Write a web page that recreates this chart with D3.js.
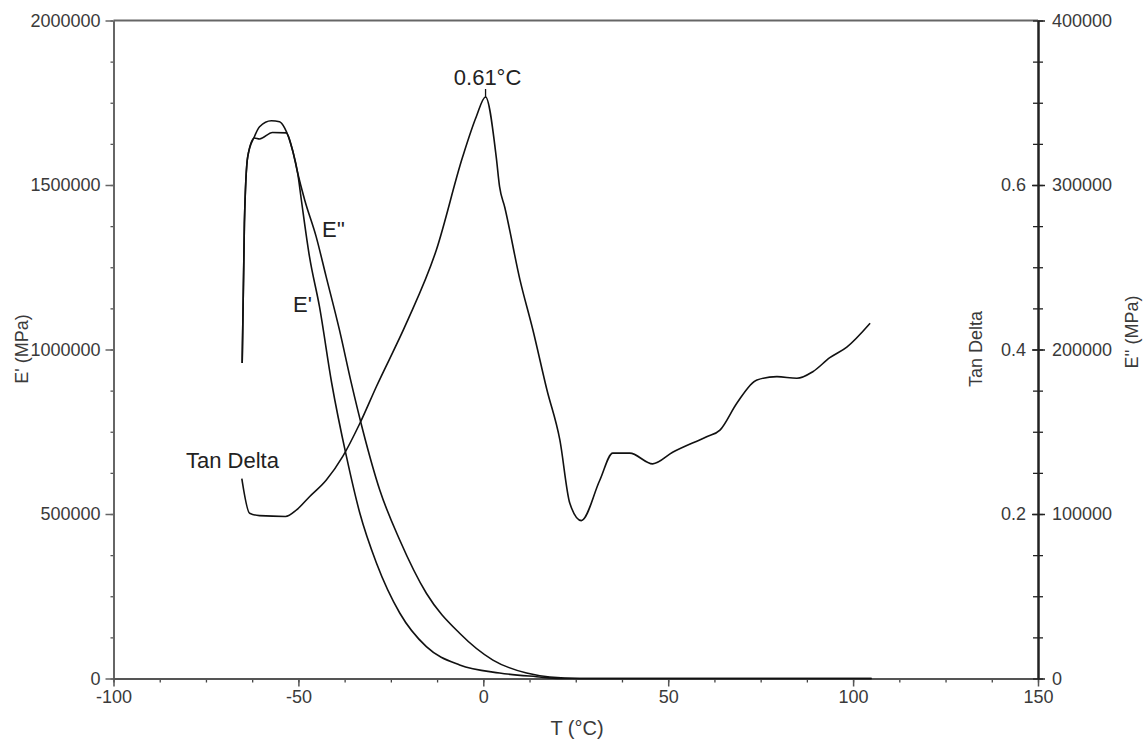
<!DOCTYPE html>
<html lang="en">
<head>
  <meta charset="UTF-8">
  <title>DMA - E', E'' and Tan Delta</title>
  <style>
    body { margin: 0; background: #fff; }
    svg text { font-family: Arial, "Liberation Sans", sans-serif; }
  </style>
</head>
<body>
  <script src="https://d3js.org/d3.v7.min.js"></script>
  <script>
    // values
    const eTemp = [-65.2, -64.6, -63.7, -61.9, -60.5, -57.3, -55.1, -53.7, -51.6, -50.2, -49.2,
                   -47.0, -44.3, -41.0, -37.0, -33.4, -28.9, -22.6, -15.4, -6.4, 4.4,
                   14.4, 20.7, 40, 60, 80, 105];
    const ePrime = [959000, 1384500, 1586000, 1646800, 1677200, 1695400, 1692400, 1673200, 1606400,
                    1536500, 1454400, 1282000, 1130100, 898200, 674200, 503000, 351100,
                    199100, 96700, 41000, 16700, 5500, 0, 0, 0, 0, 0];

    const e2Temp = [-65.2, -64.6, -63.7, -61.9, -60.5, -57.0, -53.3, -51.6, -50.2, -48.3, -45.2,
                    -42.5, -38.9, -35.7, -32.6, -28.0, -22.6, -15.4, -6.4, 2.6, 11.7, 18.0,
                    26, 50, 80, 105];
    const eDouble = [191800, 276900, 317300, 328600, 328000, 331900, 331700, 321300, 307300, 290900,
                     268600, 244300, 211900, 179700, 151100, 114600, 84200, 51800, 27500, 11200,
                     3300, 900, 0, 0, 0, 0];

    const tanTemp = [-65.3, -63.2, -60.5, -53.5, -50.5, -47.0, -42.5, -38.0, -33.4, -28.9, -20.8,
                     -12.7, -5.6, -1.9, 0.61, 3.5, 4.4, 5.8, 9.9, 13.4, 17.2, 20.7, 23.4, 26.5,
                     31.5, 35.0, 39.6, 45.8, 51.2, 60.4, 64.0, 68.6, 74.0, 79.4, 84.8, 89.1,
                     93.7, 98.3, 104.6];
    const tanDelta = [0.243, 0.201, 0.198, 0.197, 0.205, 0.221, 0.241, 0.270, 0.310, 0.355, 0.432,
                      0.521, 0.634, 0.683, 0.707, 0.634, 0.598, 0.573, 0.485, 0.424, 0.351, 0.290,
                      0.213, 0.192, 0.241, 0.274, 0.274, 0.261, 0.275, 0.294, 0.302, 0.335, 0.363,
                      0.367, 0.365, 0.373, 0.390, 0.403, 0.432];

    const tempTicks = [-100, -50, 0, 50, 100, 150];
    const ePrimeTicks = [0, 500000, 1000000, 1500000, 2000000];
    const eDoubleTicks = [0, 100000, 200000, 300000, 400000];
    const tanTicks = [0.2, 0.4, 0.6];

    const width = 1147, height = 744;
    const plotLeft = 113.5, plotRight = 1038, plotTop = 20.5, plotBottom = 678.5;

    const svg = d3.select('body').append('svg')
      .attr('width', width)
      .attr('height', height);

    const x = d3.scaleLinear().domain([-100, 150]).range([plotLeft, plotRight]);
    const yE = d3.scaleLinear().domain([0, 2000000]).range([plotBottom, plotTop]);
    const yE2 = d3.scaleLinear().domain([0, 400000]).range([plotBottom, plotTop]);
    const yTan = d3.scaleLinear().domain([0, 0.8]).range([plotBottom, plotTop]);

    const plain = d => String(d);

    function styleAxis(g, color) {
      g.attr('font-size', 18).attr('font-family', 'Arial, "Liberation Sans", sans-serif');
      g.selectAll('text').attr('fill', '#3a3a3a');
      g.selectAll('line').attr('stroke', color).attr('stroke-width', 1.5);
      g.select('.domain').attr('stroke', color).attr('stroke-width', 2);
    }
    function minor(g, color) {
      g.select('.domain').remove();
      g.selectAll('text').remove();
      g.selectAll('line').attr('stroke', color).attr('stroke-width', 1.3);
    }

    // top border
    svg.append('line')
      .attr('x1', plotLeft).attr('x2', plotRight)
      .attr('y1', plotTop).attr('y2', plotTop)
      .attr('stroke', '#666').attr('stroke-width', 2);

    // left axis E'
    svg.append('g').attr('transform', `translate(${plotLeft},0)`)
      .call(d3.axisLeft(yE).tickValues(d3.range(0, 2000001, 125000)).tickSize(3).tickFormat(''))
      .call(g => minor(g, '#555'));
    svg.append('g').attr('transform', `translate(${plotLeft},0)`)
      .call(d3.axisLeft(yE).tickValues(ePrimeTicks).tickSize(8).tickPadding(5)
        .tickFormat(d3.format('d')).tickSizeOuter(0))
      .call(g => styleAxis(g, '#666'));

    // bottom axis T
    svg.append('g').attr('transform', `translate(0,${plotBottom})`)
      .call(d3.axisBottom(x).tickValues(d3.range(-100, 151, 12.5)).tickSize(4).tickFormat(''))
      .call(g => minor(g, '#444'));
    svg.append('g').attr('transform', `translate(0,${plotBottom})`)
      .call(d3.axisBottom(x).tickValues(tempTicks).tickSize(8).tickPadding(4)
        .tickFormat(plain).tickSizeOuter(0))
      .call(g => styleAxis(g, '#555'));

    // right axis: ticks cross the line, Tan Delta on the inside, E'' on the outside
    svg.append('g').attr('transform', `translate(${plotRight},0)`)
      .call(d3.axisRight(yE2).tickValues(d3.range(0, 400001, 25000)).tickSize(5).tickFormat(''))
      .call(g => minor(g, '#222'));
    svg.append('g').attr('transform', `translate(${plotRight},0)`)
      .call(d3.axisLeft(yE2).tickValues(d3.range(0, 400001, 25000)).tickSize(5).tickFormat(''))
      .call(g => minor(g, '#222'));
    svg.append('g').attr('transform', `translate(${plotRight},0)`)
      .call(d3.axisRight(yE2).tickValues(eDoubleTicks).tickSize(7).tickPadding(7)
        .tickFormat(d3.format('d')).tickSizeOuter(0))
      .call(g => styleAxis(g, '#222'));
    svg.append('g').attr('transform', `translate(${plotRight},0)`)
      .call(d3.axisLeft(yTan).tickValues(tanTicks).tickSize(6).tickPadding(6)
        .tickFormat(d3.format('.1f')).tickSizeOuter(0))
      .call(g => styleAxis(g, '#222'));

    // axis titles
    svg.append('text')
      .attr('transform', `translate(28,349) rotate(-90)`)
      .attr('text-anchor', 'middle').attr('font-size', 18).attr('fill', '#3a3a3a')
      .text("E' (MPa)");
    svg.append('text')
      .attr('transform', `translate(982,349) rotate(-90)`)
      .attr('text-anchor', 'middle').attr('font-size', 18).attr('fill', '#3a3a3a')
      .text('Tan Delta');
    svg.append('text')
      .attr('transform', `translate(1138,332) rotate(-90)`)
      .attr('text-anchor', 'middle').attr('font-size', 18).attr('fill', '#3a3a3a')
      .text("E'' (MPa)");
    svg.append('text')
      .attr('x', 577).attr('y', 735)
      .attr('text-anchor', 'middle').attr('font-size', 20).attr('fill', '#3a3a3a')
      .text('T (°C)');

    // curves
    const lineE = d3.line().x(d => x(d[0])).y(d => yE(d[1])).curve(d3.curveMonotoneX);
    const lineE2 = d3.line().x(d => x(d[0])).y(d => yE2(d[1])).curve(d3.curveMonotoneX);
    const lineTan = d3.line().x(d => x(d[0])).y(d => yTan(d[1])).curve(d3.curveMonotoneX);

    svg.append('path')
      .datum(d3.zip(eTemp, ePrime))
      .attr('d', lineE)
      .attr('fill', 'none').attr('stroke', '#111').attr('stroke-width', 1.6);
    svg.append('path')
      .datum(d3.zip(e2Temp, eDouble))
      .attr('d', lineE2)
      .attr('fill', 'none').attr('stroke', '#111').attr('stroke-width', 1.6);
    svg.append('path')
      .datum(d3.zip(tanTemp, tanDelta))
      .attr('d', lineTan)
      .attr('fill', 'none').attr('stroke', '#111').attr('stroke-width', 1.6);

    // peak marker
    const peakT = 0.61, peakTan = 0.707;
    svg.append('line')
      .attr('x1', x(peakT)).attr('x2', x(peakT))
      .attr('y1', yTan(peakTan) - 8).attr('y2', yTan(peakTan))
      .attr('stroke', '#111').attr('stroke-width', 1.3);
    svg.append('text')
      .attr('x', x(peakT) + 2).attr('y', yTan(peakTan) - 12)
      .attr('text-anchor', 'middle').attr('font-size', 22).attr('fill', '#222')
      .text(peakT + '°C');

    // curve labels
    svg.append('text').attr('x', 186).attr('y', 468)
      .attr('font-size', 22).attr('fill', '#222').text('Tan Delta');
    svg.append('text').attr('x', 322).attr('y', 237)
      .attr('font-size', 22).attr('fill', '#222').text("E''");
    svg.append('text').attr('x', 293).attr('y', 312)
      .attr('font-size', 22).attr('fill', '#222').text("E'");
  </script>
</body>
</html>
